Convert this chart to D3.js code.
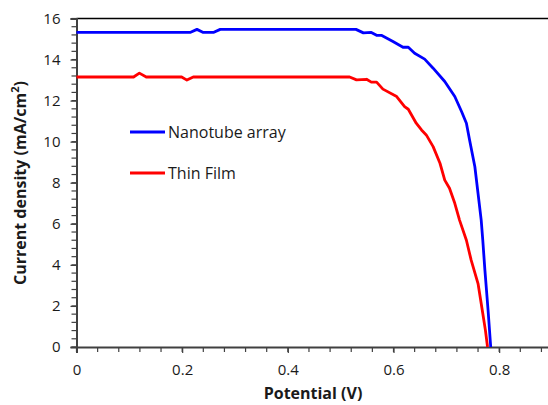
<!DOCTYPE html>
<html>
<head>
<meta charset="utf-8">
<script src="https://cdn.jsdelivr.net/npm/d3@7"></script>
<style>
  body { margin: 0; background: #fff; }
  svg { display: block; font-family: "Open Sans", sans-serif; }
</style>
</head>
<body>
<div id="chart"></div>
<script>
// potential (V) and current density (mA/cm2)
const nanotubeV = [0, 0.215, 0.228, 0.240, 0.259, 0.272, 0.529, 0.543, 0.558, 0.568, 0.577, 0.599, 0.618, 0.628,
  0.640, 0.659, 0.675, 0.697, 0.716, 0.729, 0.738, 0.744, 0.754, 0.760, 0.766, 0.769, 0.773, 0.779, 0.784];
const nanotubeJ = [15.32, 15.32, 15.47, 15.32, 15.32, 15.47, 15.47, 15.30, 15.32, 15.18, 15.18, 14.88, 14.60, 14.60,
  14.31, 14.02, 13.58, 12.93, 12.20, 11.46, 10.90, 10.08, 8.78, 7.48, 6.18, 5.20, 3.74, 1.79, 0];

const thinFilmV = [0, 0.108, 0.119, 0.132, 0.199, 0.209, 0.221, 0.517, 0.530, 0.549, 0.558, 0.568, 0.580, 0.606,
  0.621, 0.628, 0.643, 0.653, 0.662, 0.675, 0.688, 0.697, 0.706, 0.716, 0.725, 0.738, 0.747, 0.760, 0.769, 0.774, 0.778];
const thinFilmJ = [13.15, 13.15, 13.34, 13.15, 13.15, 13.00, 13.15, 13.15, 13.01, 13.04, 12.90, 12.90, 12.56, 12.20,
  11.71, 11.58, 10.90, 10.57, 10.33, 9.76, 8.95, 8.13, 7.73, 7.00, 6.18, 5.20, 4.23, 3.09, 1.63, 0.81, 0];

const seriesNames = ["Nanotube array", "Thin Film"];
const seriesColors = ["#0000ff", "#ff0000"];
const xTicks = [0, 0.2, 0.4, 0.6, 0.8];
const yTicks = [0, 2, 4, 6, 8, 10, 12, 14, 16];

const width = 548, height = 405;
const margin = {top: 18.5, right: -4, bottom: 58, left: 76.5};

const svg = d3.select("#chart").append("svg")
  .attr("width", width)
  .attr("height", height);

const x = d3.scaleLinear().domain([0, 0.9]).range([margin.left, width - margin.right]);
const y = d3.scaleLinear().domain([0, 16]).range([height - margin.bottom, margin.top]);

const axisColor = "#404040";

// top frame line
svg.append("line")
  .attr("x1", x(0)).attr("x2", x(0.9))
  .attr("y1", y(16)).attr("y2", y(16))
  .attr("stroke", "#000").attr("stroke-width", 1.5);

// minor ticks
const xMinor = d3.range(0, 0.9001, 0.04);
const yMinor = d3.range(0, 16.001, 0.4);

svg.append("g").selectAll("line")
  .data(xMinor)
  .join("line")
  .attr("x1", d => x(d)).attr("x2", d => x(d))
  .attr("y1", y(0)).attr("y2", y(0) + 5)
  .attr("stroke", axisColor).attr("stroke-width", 1.2);

svg.append("g").selectAll("line")
  .data(yMinor)
  .join("line")
  .attr("x1", x(0) - 5).attr("x2", x(0))
  .attr("y1", d => y(d)).attr("y2", d => y(d))
  .attr("stroke", axisColor).attr("stroke-width", 1.2);

// axes
const xAxis = svg.append("g")
  .attr("transform", `translate(0,${y(0)})`)
  .call(d3.axisBottom(x).tickValues(xTicks).tickSize(6).tickPadding(11).tickFormat(d => d === 0 ? "0" : d3.format(".1f")(d)));
const yAxis = svg.append("g")
  .attr("transform", `translate(${x(0)},0)`)
  .call(d3.axisLeft(y).tickValues(yTicks).tickSize(6).tickPadding(10).tickFormat(d3.format("d")));

[xAxis, yAxis].forEach(g => {
  g.select(".domain").attr("stroke", axisColor).attr("stroke-width", 2);
  g.selectAll(".tick line").attr("stroke", axisColor).attr("stroke-width", 1.2);
  g.selectAll(".tick text").attr("fill", "#1a1a1a").style("font-size", "15px")
    .style("font-family", "'Open Sans', sans-serif");
});

// curves
const line = d3.line()
  .x(d => x(d[0]))
  .y(d => y(d[1]));

const series = [
  d3.zip(nanotubeV, nanotubeJ),
  d3.zip(thinFilmV, thinFilmJ)
];

svg.append("g").selectAll("path")
  .data(series)
  .join("path")
  .attr("d", line)
  .attr("fill", "none")
  .attr("stroke", (d, i) => seriesColors[i])
  .attr("stroke-width", 2.8)
  .attr("stroke-linejoin", "round");

// legend
const legend = svg.append("g").selectAll("g")
  .data(seriesNames)
  .join("g")
  .attr("transform", (d, i) => `translate(130,${132 + i * 41})`);

legend.append("line")
  .attr("x1", 0).attr("x2", 35)
  .attr("stroke", (d, i) => seriesColors[i])
  .attr("stroke-width", 2.8);

legend.append("text")
  .attr("x", 38).attr("y", 6)
  .attr("fill", "#1a1a1a")
  .style("font-size", "16px")
  .text(d => d);

// axis titles
svg.append("text")
  .attr("x", 313).attr("y", 399)
  .attr("text-anchor", "middle")
  .style("font-size", "16px").style("font-weight", "bold")
  .attr("fill", "#1a1a1a")
  .text("Potential (V)");

svg.append("text")
  .attr("transform", "translate(26,183) rotate(-90)")
  .attr("text-anchor", "middle")
  .style("font-size", "16px").style("font-weight", "bold")
  .attr("fill", "#1a1a1a")
  .html("Current density (mA/cm<tspan baseline-shift='super' font-size='11px'>2</tspan>)");
</script>
</body>
</html>
